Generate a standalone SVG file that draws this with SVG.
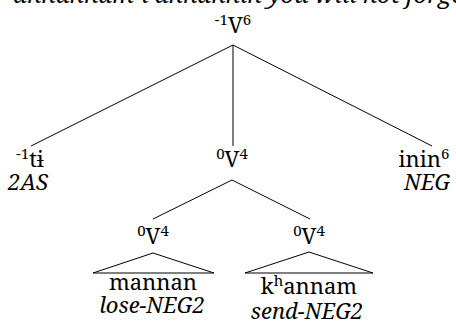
<svg xmlns="http://www.w3.org/2000/svg" width="456" height="329" viewBox="0 0 456 329">
<style>
text{font-family:"Noto Serif","DejaVu Serif","Liberation Serif",serif;fill:#000;font-size:22px}
.it{font-style:italic}
.m{text-anchor:middle}
.sup{font-size:15px}
line,polygon{stroke:#000;stroke-width:1;fill:none}
</style>
<rect width="456" height="329" fill="#fff"/>
<text class="it" x="13" y="3" style="font-size:24px">ahnannam-i ahnannin you will not forget</text>
<g id="connectors">
<line x1="233" y1="45" x2="31" y2="146"/>
<line x1="233" y1="45" x2="233" y2="146"/>
<line x1="233" y1="45" x2="432" y2="146"/>
<line x1="232" y1="180" x2="153" y2="219"/>
<line x1="232" y1="180" x2="310" y2="219"/>
</g>
<g id="root"><text class="m" x="233" y="33"><tspan class="sup" dy="-8">-1</tspan><tspan dy="8">V</tspan><tspan class="sup" dy="-8">6</tspan></text></g>
<g id="ti"><text class="m" x="30" y="167"><tspan class="sup" dy="-8">-1</tspan><tspan dy="8">tɨ</tspan></text><text class="m it" x="28" y="190">2AS</text></g>
<g id="v4mid"><text class="m" x="232" y="167"><tspan class="sup" dy="-8">0</tspan><tspan dy="8">V</tspan><tspan class="sup" dy="-8">4</tspan></text></g>
<g id="inin"><text class="m" x="424" y="167">inin<tspan class="sup" dy="-8">6</tspan></text><text class="m it" x="427" y="190">NEG</text></g>
<g id="v4left"><text class="m" x="153" y="244"><tspan class="sup" dy="-8">0</tspan><tspan dy="8">V</tspan><tspan class="sup" dy="-8">4</tspan></text>
<polygon points="153,253 93,273 214,273"/>
<text class="m" x="153" y="290">mannan</text><text class="m it" x="152" y="313">lose-NEG2</text></g>
<g id="v4right"><text class="m" x="309" y="244"><tspan class="sup" dy="-8">0</tspan><tspan dy="8">V</tspan><tspan class="sup" dy="-8">4</tspan></text>
<polygon points="309,252 245,273 373,273"/>
<text class="m" x="309" y="294">k<tspan class="sup" dy="-8">h</tspan><tspan dy="8">annam</tspan></text><text class="m it" x="307" y="319">send-NEG2</text></g>
</svg>
